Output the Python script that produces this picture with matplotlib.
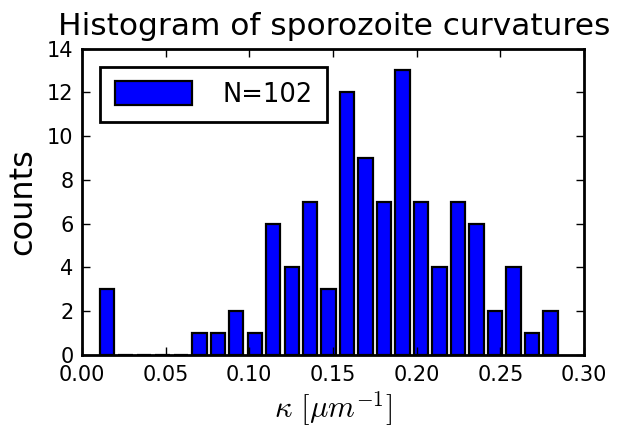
import numpy as np
import matplotlib
matplotlib.use("Agg")
import matplotlib.pyplot as plt

plt.rcParams['mathtext.fontset'] = 'cm'

# histogram counts (25 bins)
counts = [3, 0, 0, 0, 0, 1, 1, 2, 1, 6, 4, 7, 3, 12, 9, 7, 13, 7, 4, 7, 6, 2, 4, 1, 2]
kappa_min = 0.0094
kappa_max = 0.2855
xticks = [0.00, 0.05, 0.10, 0.15, 0.20, 0.25, 0.30]
yticks = [0, 2, 4, 6, 8, 10, 12, 14]

edges = np.linspace(kappa_min, kappa_max, len(counts) + 1)
centers = (edges[:-1] + edges[1:]) / 2
n_total = sum(counts)

fig = plt.figure(figsize=(6.3, 4.3), dpi=100)
ax = fig.add_axes([0.130, 0.1744, 0.797, 0.7128])

ax.hist(centers, bins=edges, weights=counts, rwidth=0.78, color='#0000ff',
        edgecolor='black', linewidth=1.6, label=f'N={n_total}')

ax.set_xlim(0, 0.30)
ax.set_ylim(0, 14)
ax.set_xticks(xticks)
ax.set_xticklabels([f'{t:.2f}' for t in xticks])
ax.set_yticks(yticks)
ax.tick_params(direction='in', top=True, right=True, length=6, width=1,
               labelsize=15)
ax.tick_params(axis='x', pad=7)
ax.tick_params(axis='y', pad=6)
for s in ax.spines.values():
    s.set_linewidth(2)

ax.set_xlabel(r'$\kappa\ [\mu m^{-1}]$', fontsize=22, labelpad=3)
ax.set_ylabel('counts', fontsize=23, labelpad=6)
fig.text(0.530, 1 - 35 / 430, 'Histogram of sporozoite curvatures', fontsize=22.5,
         ha='center', va='baseline')

leg = ax.legend(loc='upper left', fontsize=18.5, handlelength=3.0, handleheight=1.05,
                borderpad=0.55, handletextpad=1.2, fancybox=False, framealpha=1,
                borderaxespad=0.72)
leg.get_frame().set_edgecolor('black')
leg.get_frame().set_linewidth(2)

fig.savefig('out.png', dpi=100)
